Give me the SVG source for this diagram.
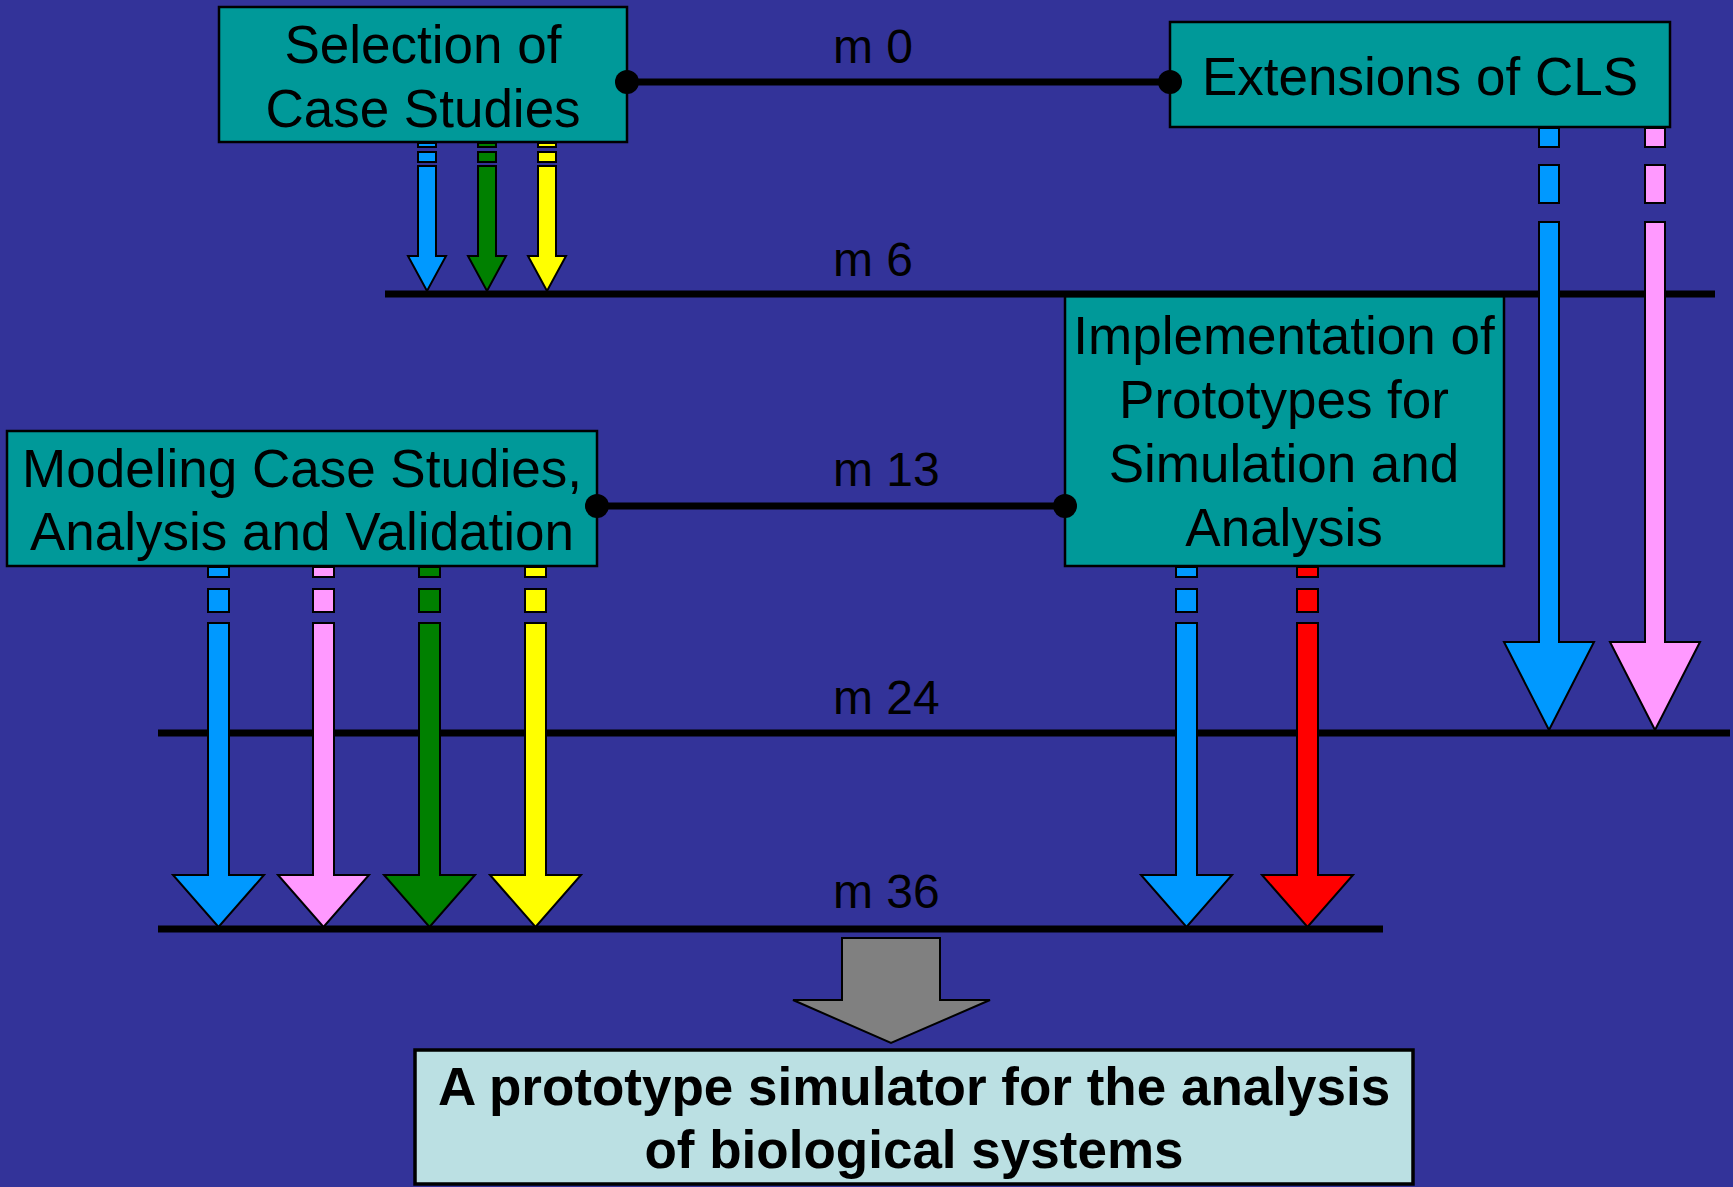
<svg xmlns="http://www.w3.org/2000/svg" width="1733" height="1187" viewBox="0 0 1733 1187">
<style>
.box{fill:#009999;stroke:#000;stroke-width:2.5}
.t{font-family:"Liberation Sans",Arial,sans-serif;font-size:53px;fill:#000;text-anchor:middle}
.tb{font-family:"Liberation Sans",Arial,sans-serif;font-size:53px;font-weight:bold;fill:#000;text-anchor:middle}
.m{font-family:"Liberation Sans",Arial,sans-serif;font-size:48px;fill:#000}
.tl{stroke:#000;stroke-width:7;fill:none}
.a{stroke:#000;stroke-width:2}
.blue{fill:#0099FF}.pink{fill:#FF99FF}.green{fill:#008000}.yellow{fill:#FFFF00}.red{fill:#FF0000}
</style>
<rect x="0" y="0" width="1733" height="1187" fill="#333399"/>

<g id="labels">
<text class="m" x="833" y="63">m 0</text>
<text class="m" x="833" y="276">m 6</text>
<text class="m" x="833" y="486">m 13</text>
<text class="m" x="833" y="714">m 24</text>
<text class="m" x="833" y="908">m 36</text>
</g>

<g id="node-selection">
<rect class="box" x="219" y="7" width="408" height="135"/>
<text class="t" x="423" y="63">Selection of</text>
<text class="t" x="423" y="127">Case Studies</text>
</g>
<g id="node-extensions">
<rect class="box" x="1170" y="22" width="500" height="105"/>
<text class="t" x="1420" y="95">Extensions of CLS</text>
</g>
<g id="node-modeling">
<rect class="box" x="7" y="431" width="590" height="135"/>
<text class="t" x="302" y="487">Modeling Case Studies,</text>
<text class="t" x="302" y="550">Analysis and Validation</text>
</g>
<g id="node-implementation">
<rect class="box" x="1065" y="296" width="439" height="270"/>
<text class="t" x="1284" y="354">Implementation of</text>
<text class="t" x="1284" y="418">Prototypes for</text>
<text class="t" x="1284" y="482">Simulation and</text>
<text class="t" x="1284" y="546">Analysis</text>
</g>
<g id="node-result">
<rect x="415" y="1050" width="998" height="134" fill="#BBE0E3" stroke="#000" stroke-width="3.5"/>
<text class="tb" x="914" y="1105">A prototype simulator for the analysis</text>
<text class="tb" x="914" y="1168">of biological systems</text>
</g>

<g id="connectors">
<line class="tl" x1="385" y1="294" x2="1715" y2="294"/>
<line class="tl" x1="158" y1="733" x2="1730" y2="733"/>
<line class="tl" x1="158" y1="929" x2="1383" y2="929"/>
<line class="tl" x1="627" y1="82" x2="1170" y2="82"/>
<circle cx="627" cy="82" r="12" fill="#000"/>
<circle cx="1170" cy="82" r="12" fill="#000"/>
<line class="tl" x1="597" y1="506" x2="1065" y2="506"/>
<circle cx="597" cy="506" r="12" fill="#000"/>
<circle cx="1065" cy="506" r="12" fill="#000"/>

<g class="a blue">
<rect x="418" y="143" width="18" height="4"/><rect x="418" y="152" width="18" height="10"/>
<polygon points="418,166 436,166 436,256 446,256 427,291 408,256 418,256"/>
</g>
<g class="a green">
<rect x="478" y="143" width="18" height="4"/><rect x="478" y="152" width="18" height="10"/>
<polygon points="478,166 496,166 496,256 506,256 487,291 468,256 478,256"/>
</g>
<g class="a yellow">
<rect x="538" y="143" width="18" height="4"/><rect x="538" y="152" width="18" height="10"/>
<polygon points="538,166 556,166 556,256 566,256 547,291 528,256 538,256"/>
</g>

<g class="a blue">
<rect x="1539" y="128" width="20" height="19"/><rect x="1539" y="165" width="20" height="38"/>
<polygon points="1539,222 1559,222 1559,642 1594,642 1549,730 1504,642 1539,642"/>
</g>
<g class="a pink">
<rect x="1645" y="128" width="20" height="19"/><rect x="1645" y="165" width="20" height="38"/>
<polygon points="1645,222 1665,222 1665,642 1700,642 1655,730 1610,642 1645,642"/>
</g>

<g class="a blue">
<rect x="208" y="567" width="21" height="10"/><rect x="208" y="589" width="21" height="23"/>
<polygon points="208,623 229,623 229,875 264,875 218.5,927 173,875 208,875"/>
</g>
<g class="a pink">
<rect x="313" y="567" width="21" height="10"/><rect x="313" y="589" width="21" height="23"/>
<polygon points="313,623 334,623 334,875 369,875 323.5,927 278,875 313,875"/>
</g>
<g class="a green">
<rect x="419" y="567" width="21" height="10"/><rect x="419" y="589" width="21" height="23"/>
<polygon points="419,623 440,623 440,875 475,875 429.5,927 384,875 419,875"/>
</g>
<g class="a yellow">
<rect x="525" y="567" width="21" height="10"/><rect x="525" y="589" width="21" height="23"/>
<polygon points="525,623 546,623 546,875 581,875 535.5,927 490,875 525,875"/>
</g>

<g class="a blue">
<rect x="1176" y="567" width="21" height="10"/><rect x="1176" y="589" width="21" height="23"/>
<polygon points="1176,623 1197,623 1197,875 1232,875 1186.5,927 1141,875 1176,875"/>
</g>
<g class="a red">
<rect x="1297" y="567" width="21" height="10"/><rect x="1297" y="589" width="21" height="23"/>
<polygon points="1297,623 1318,623 1318,875 1353,875 1307.5,927 1262,875 1297,875"/>
</g>

<polygon points="842,938 940,938 940,1000 990,1000 891,1043 793,1000 842,1000" fill="#808080" stroke="#000" stroke-width="2"/>
</g>
</svg>
